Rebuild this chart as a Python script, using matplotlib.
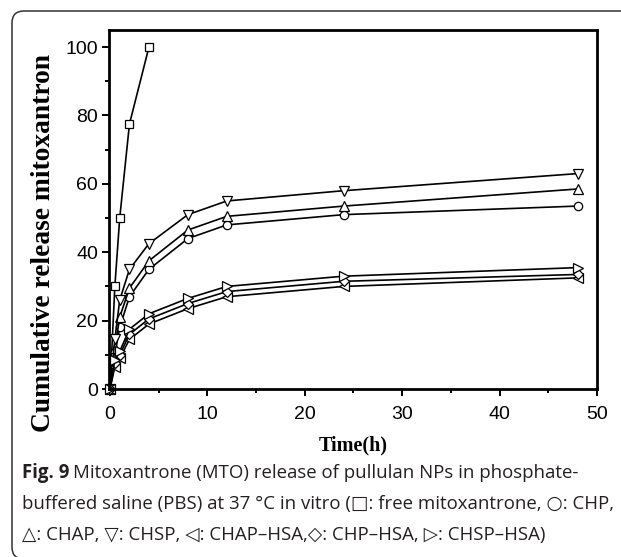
import matplotlib
matplotlib.use('Agg')
import matplotlib.pyplot as plt
from matplotlib.patches import FancyBboxPatch
from matplotlib.transforms import IdentityTransform

# время отбора проб, ч
time_h = [0, 0.5, 1, 2, 4, 8, 12, 24, 48]
free_time_h = [0, 0.5, 1, 2, 4]

# кумулятивное высвобождение, %
free_mto = [0, 30, 50, 77.5, 100]
chp = [0, 10, 18, 27, 35, 44, 48, 51, 53.5]
chap = [0, 12, 21, 29.5, 37.5, 46.5, 50.5, 53.5, 58.5]
chsp = [0, 14.5, 26, 35, 42.5, 51, 55, 58, 63]
chap_hsa = [0, 6.5, 9, 14.5, 19, 23.5, 27, 30, 32.5]
chp_hsa = [0, 7.5, 10, 16, 20.5, 25, 28.5, 31.5, 33.5]
chsp_hsa = [0, 8.5, 11, 17.5, 22, 26.5, 30, 33, 35.5]

x_ticks = [0, 10, 20, 30, 40, 50]
y_ticks = [0, 20, 40, 60, 80, 100]

caption_bold = 'Fig. 9'
caption_lines = [
    'Mitoxantrone (MTO) release of pullulan NPs in phosphate-',
    'buffered saline (PBS) at 37 °C in vitro (□: free mitoxantrone, ○: CHP,',
    '△: CHAP, ▽: CHSP, ◁: CHAP–HSA,◇: CHP–HSA, ▷: CHSP–HSA)',
]

W, H = 621, 557
fig = plt.figure(figsize=(W / 100, H / 100), dpi=100)
ax = fig.add_axes([109 / W, 1 - 389 / H, (597 - 109) / W, (389 - 30) / H])

line_kw = dict(color='black', lw=1.2, mfc='white', mec='black', mew=0.9, clip_on=False)
ax.plot(free_time_h, free_mto, marker='s', ms=6.3, **line_kw)
ax.plot(time_h, chp, marker='o', ms=6, **line_kw)
ax.plot(time_h, chap, marker='^', ms=7, **line_kw)
ax.plot(time_h, chsp, marker='v', ms=7, **line_kw)
ax.plot(time_h, chap_hsa, marker='<', ms=7, **line_kw)
ax.plot(time_h, chp_hsa, marker='D', ms=4.8, **line_kw)
ax.plot(time_h, chsp_hsa, marker='>', ms=7, **line_kw)

ax.set_xlim(-0.1, 50)
ax.set_ylim(0, 105)
ax.set_xticks(x_ticks)
ax.set_yticks(y_ticks)
ax.set_xticks([5, 15, 25, 35, 45], minor=True)
ax.set_yticks([10, 30, 50, 70, 90], minor=True)
ax.tick_params(which='both', direction='out', width=1.4, top=False, right=False)
ax.tick_params(which='major', length=5, labelsize=14)
ax.tick_params(axis='x', which='major', pad=7)
ax.tick_params(axis='y', which='major', pad=3)
ax.tick_params(which='minor', length=3)
for lab in ax.get_xticklabels() + ax.get_yticklabels():
    lab.set_family('Liberation Sans')
for sp in ax.spines.values():
    sp.set_linewidth(2)

fig.text(44 / W, 1 - 243 / H, 'Cumulative release mitoxantron', rotation=90,
         ha='center', va='center', family='Liberation Serif', fontweight='bold', fontsize=19.8)
fig.text(353 / W, 1 - 445 / H, 'Time(h)', ha='center', va='center',
         family='Liberation Serif', fontweight='bold', fontsize=14.5)

# рамка вокруг рисунка
frame = FancyBboxPatch((12, -2), 700, H - 11 + 2, boxstyle='round,pad=0,rounding_size=12',
                       transform=IdentityTransform(), fill=False, ec='#333333', lw=1.1)
fig.add_artist(frame)

# подпись: подгоняем размер шрифта по ширине второй строки
renderer = fig.canvas.get_renderer()
cap_kw = dict(family=['Open Sans', 'DejaVu Sans'], color='#231f20', va='center')
probe = fig.text(0, 0, caption_lines[1], fontsize=10, **cap_kw)
cap_size = 10 * 590 / probe.get_window_extent(renderer).width
probe.remove()

x0 = 22
t1 = fig.text(x0 / W, 1 - 473 / H, caption_bold, fontsize=cap_size, fontweight='bold', **cap_kw)
bb = t1.get_window_extent(renderer)
fig.text((bb.x1 + cap_size * 0.3) / W, 1 - 473 / H, caption_lines[0], fontsize=cap_size, **cap_kw)
fig.text(x0 / W, 1 - 504 / H, caption_lines[1], fontsize=cap_size, **cap_kw)
fig.text(x0 / W, 1 - 535 / H, caption_lines[2], fontsize=cap_size, **cap_kw)

fig.savefig('out.png', dpi=100)
